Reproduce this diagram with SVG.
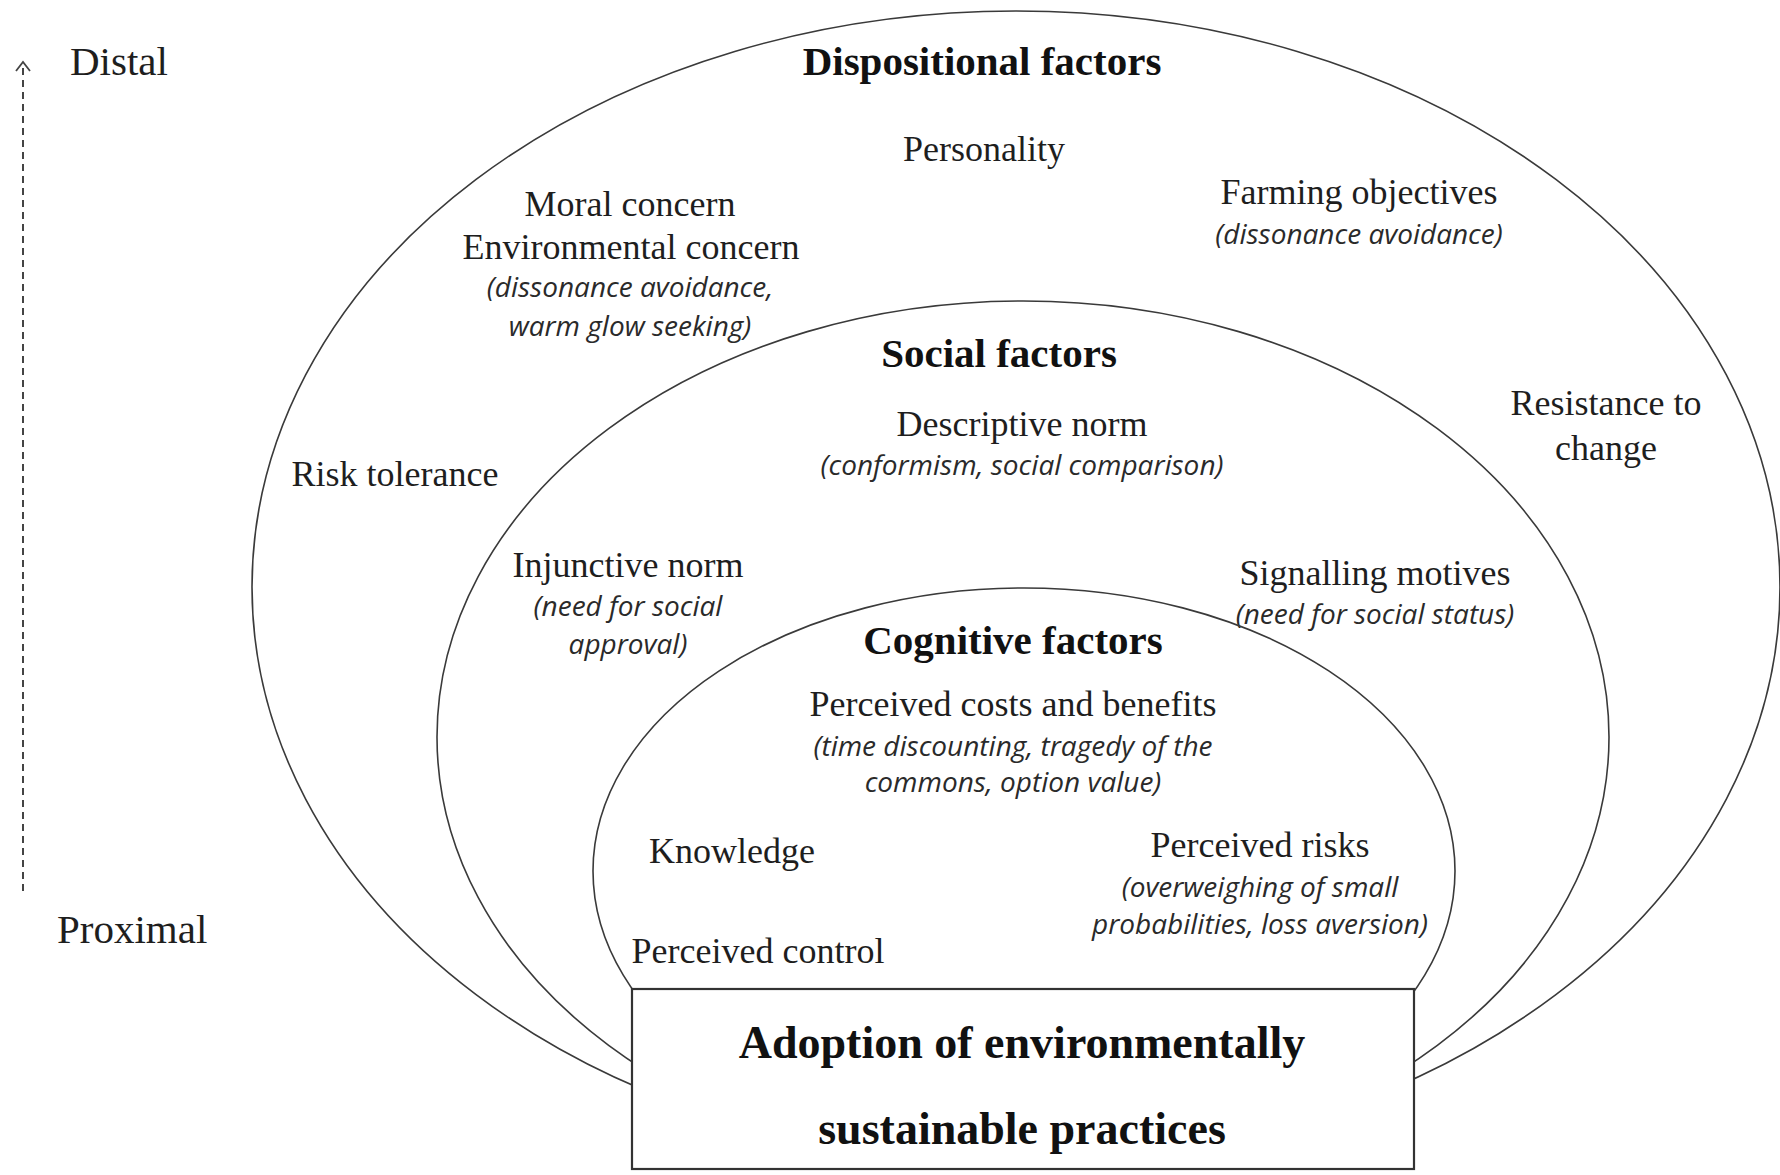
<svg xmlns="http://www.w3.org/2000/svg" width="1780" height="1175" viewBox="0 0 1780 1175">
<style>
.ring{fill:none;stroke:#3a3a3a;stroke-width:1.6}
.box{fill:#fff;stroke:#333;stroke-width:2.2}
.t{font-family:"Liberation Serif","Times New Roman",serif;font-size:36px;fill:#1e1e1e;text-anchor:middle}
.h{font-family:"Liberation Serif","Times New Roman",serif;font-size:41px;font-weight:bold;fill:#111;text-anchor:middle}
.hb{font-family:"Liberation Serif","Times New Roman",serif;font-size:46px;font-weight:bold;fill:#111;text-anchor:middle}
.i{font-family:"Open Sans","Noto Sans",sans-serif;font-style:italic;font-size:28px;fill:#2a2a2a;text-anchor:middle}
.ax{font-family:"Liberation Serif","Times New Roman",serif;font-size:41px;fill:#1e1e1e}
.dash{fill:none;stroke:#444;stroke-width:2;stroke-dasharray:7 5}
</style>
<defs>
<marker id="chev" markerWidth="20" markerHeight="20" refX="12" refY="10" orient="auto" markerUnits="userSpaceOnUse" viewBox="0 0 20 20">
<path d="M3,3 L12,10 L3,17" fill="none" stroke="#444" stroke-width="1.8"/>
</marker>
<clipPath id="clipRings">
<rect x="0" y="0" width="1780" height="1166"/>
</clipPath>
</defs>
<rect width="1780" height="1175" fill="#fff"/>

<g id="connectors">
<line class="dash" x1="23" y1="891" x2="23" y2="62" marker-end="url(#chev)"/>
</g>

<g id="axis-labels">
<text class="ax" x="70" y="75">Distal</text>
<text class="ax" x="57" y="943">Proximal</text>
</g>

<g id="dispositional">
<ellipse class="ring" cx="1016" cy="587" rx="764" ry="576" clip-path="url(#clipRings)"/>
<text class="h" x="982" y="75">Dispositional  factors</text>
<text class="t" x="984" y="161">Personality</text>
<text class="t" x="630" y="216">Moral concern</text>
<text class="t" x="631" y="259">Environmental  concern</text>
<text class="i" x="630" y="297">(dissonance avoidance,</text>
<text class="i" x="630" y="336">warm glow seeking)</text>
<text class="t" x="1359" y="204">Farming  objectives</text>
<text class="i" x="1359" y="244">(dissonance avoidance)</text>
<text class="t" x="1606" y="415">Resistance to</text>
<text class="t" x="1606" y="460">change</text>
<text class="t" x="395" y="486">Risk tolerance</text>
</g>

<g id="social">
<ellipse class="ring" cx="1023" cy="737" rx="586" ry="436" clip-path="url(#clipRings)"/>
<text class="h" x="999" y="367">Social factors</text>
<text class="t" x="1022" y="436">Descriptive norm</text>
<text class="i" x="1022" y="475">(conformism, social comparison)</text>
<text class="t" x="628" y="577">Injunctive  norm</text>
<text class="i" x="628" y="616">(need for social</text>
<text class="i" x="628" y="654">approval)</text>
<text class="t" x="1375" y="585">Signalling  motives</text>
<text class="i" x="1375" y="624">(need for social status)</text>
</g>

<g id="cognitive">
<ellipse class="ring" cx="1024" cy="871" rx="431" ry="283" clip-path="url(#clipRings)"/>
<text class="h" x="1013" y="654">Cognitive factors</text>
<text class="t" x="1013" y="716">Perceived costs and benefits</text>
<text class="i" x="1013" y="756">(time discounting, tragedy of the</text>
<text class="i" x="1013" y="792">commons, option value)</text>
<text class="t" x="732" y="863">Knowledge</text>
<text class="t" x="1260" y="857">Perceived risks</text>
<text class="i" x="1260" y="897">(overweighing of small</text>
<text class="i" x="1260" y="934">probabilities,  loss aversion)</text>
<text class="t" x="758" y="963">Perceived control</text>
</g>

<g id="adoption">
<rect class="box" x="632" y="989" width="782" height="180"/>
<text class="hb" x="1022" y="1058">Adoption of environmentally</text>
<text class="hb" x="1022" y="1144">sustainable practices</text>
</g>
</svg>
